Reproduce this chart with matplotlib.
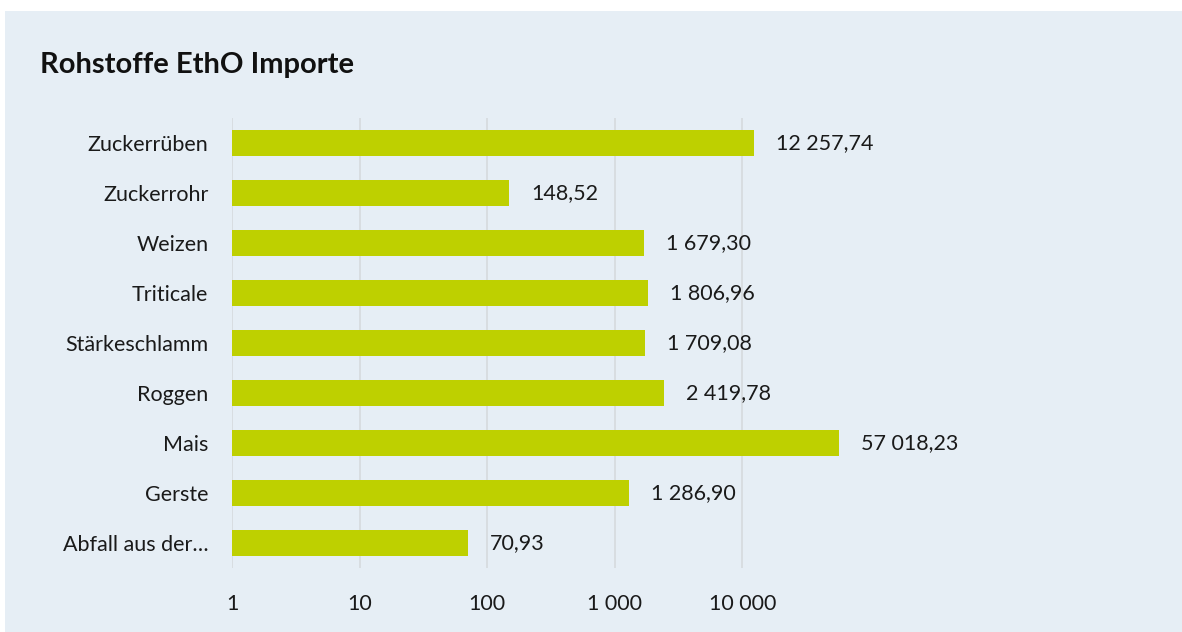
import matplotlib
matplotlib.use("Agg")
import matplotlib.pyplot as plt
from matplotlib.patches import Rectangle
from matplotlib.ticker import FixedLocator, FixedFormatter, NullLocator

plt.rcParams['font.family'] = ['Lato', 'DejaVu Sans']

# data (top to bottom as in the chart)
kategorien = ['Zuckerrüben', 'Zuckerrohr', 'Weizen', 'Triticale', 'Stärkeschlamm',
              'Roggen', 'Mais', 'Gerste', 'Abfall aus der…']
werte = [12257.74, 148.52, 1679.30, 1806.96, 1709.08, 2419.78, 57018.23, 1286.90, 70.93]
tick_werte = [1, 10, 100, 1000, 10000]
tick_labels = ['1', '10', '100', '1 000', '10 000']

bg = '#e6eef5'
bar_col = '#bed000'


def fmt(v):
    s = f"{v:,.2f}"
    return s.replace(',', ' ').replace('.', ',')


fig = plt.figure(figsize=(11.82, 6.32), dpi=100)
fig.patch.set_facecolor('white')
fig.patches.append(Rectangle((5 / 1182, 0), 1 - 5 / 1182, 1 - 11 / 632,
                             transform=fig.transFigure, facecolor=bg,
                             edgecolor='none', zorder=-10))

ax = fig.add_axes([232 / 1182, 1 - 568 / 632, (870 - 232) / 1182, 450 / 632])
ax.set_facecolor('none')

y = list(range(len(kategorien)))
ax.barh(y, werte, height=0.52, color=bar_col, zorder=3)
ax.set_xscale('log')
ax.set_xlim(1, 100000)
ax.set_ylim(len(kategorien) - 0.5, -0.5)

ax.xaxis.set_major_locator(FixedLocator(tick_werte))
ax.xaxis.set_major_formatter(FixedFormatter(tick_labels))
ax.xaxis.set_minor_locator(NullLocator())
ax.set_yticks(y)
ax.set_yticklabels(kategorien)
ax.tick_params(axis='both', length=0, labelsize=15.5, colors='#1a1a1a')
ax.tick_params(axis='x', pad=19)
ax.tick_params(axis='y', pad=17)

for t in tick_werte:
    ax.axvline(t, color='#d6dadd', linewidth=1.2, zorder=1)

for s in ax.spines.values():
    s.set_visible(False)

for yi, v in zip(y, werte):
    ax.annotate(fmt(v), (v, yi), xytext=(22, 0), textcoords='offset pixels',
                va='center', ha='left', fontsize=15.5, color='#1a1a1a')

fig.text(40 / 1182, 1 - 65 / 632, 'Rohstoffe EthO Importe', fontsize=21,
         fontweight='bold', color='#111111', va='center', ha='left')

fig.savefig('out.png', dpi=100, facecolor=fig.get_facecolor())
